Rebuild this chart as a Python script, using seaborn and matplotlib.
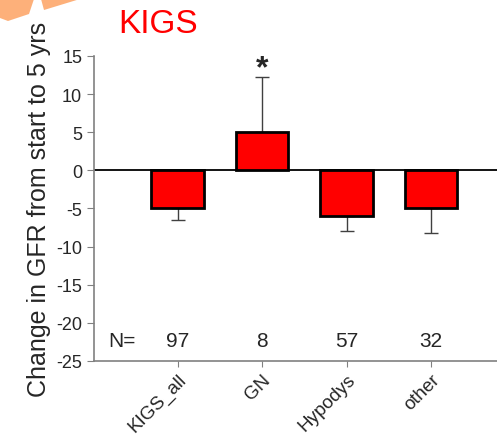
import matplotlib
matplotlib.use("Agg")
import matplotlib.pyplot as plt
import seaborn as sns
import pandas as pd
from matplotlib.patches import Polygon

# data
groups = ["KIGS_all", "GN", "Hypodys", "other"]
change = [-5.0, 5.0, -6.0, -5.0]
err = [1.5, 7.2, 1.9, 3.2]
n_patients = [97, 8, 57, 32]

df = pd.DataFrame({"group": groups, "change": change})

sns.set_style("white")
plt.rcParams["font.family"] = ["Liberation Sans", "DejaVu Sans"]
plt.rcParams["axes.unicode_minus"] = False

fig = plt.figure(figsize=(4.97, 4.39), dpi=100)
ax = fig.add_axes([0.189, 0.1754, 0.811, 0.6948])

sns.barplot(data=df, x="group", y="change", color="red", width=0.62,
            edgecolor="black", linewidth=2, errorbar=None, saturation=1, ax=ax,
            zorder=2)

# one-sided error bars, pointing away from zero
lower = [e if v < 0 else 0 for v, e in zip(change, err)]
upper = [e if v > 0 else 0 for v, e in zip(change, err)]
ax.errorbar(range(len(groups)), change, yerr=[lower, upper], fmt="none",
            ecolor="#404040", elinewidth=1, capsize=5, capthick=1, zorder=1)

ax.axhline(0, color="black", lw=1.3, zorder=0.5)

gn = groups.index("GN")
ax.text(gn, change[gn] + err[gn] - 0.8, "*", ha="center", va="bottom",
        fontsize=23, fontweight="bold")

ax.text(-0.66, -22.3, "N=", ha="center", va="center", fontsize=15)
for i, n in enumerate(n_patients):
    ax.text(i, -22.3, str(n), ha="center", va="center", fontsize=15)

ax.set_xlim(-0.99, 3.78)
ax.set_ylim(-25, 15)
ax.set_yticks(range(-25, 16, 5))
ax.set_xlabel("")
ax.set_ylabel("Change in GFR from start to 5 yrs", fontsize=18, labelpad=4)
ax.set_xticks(range(len(groups)))
ax.set_xticklabels(groups, rotation=45, ha="right", rotation_mode="anchor", fontsize=13.5)

sns.despine(ax=ax)
for s in ["left", "bottom"]:
    ax.spines[s].set_color("#808080")
    ax.spines[s].set_linewidth(1.2)
ax.tick_params(axis="y", direction="out", length=5, color="#808080", labelsize=13, left=True)
ax.tick_params(axis="x", direction="out", length=4, color="#808080", bottom=True, pad=3)

fig.text(0.318, 0.945, "KIGS", color="red", fontsize=24, ha="center", va="center")

# orange slide decoration in the corner
fig.add_artist(Polygon([(0, 439), (34, 439), (29, 424), (8, 417), (0, 420)],
                       closed=True, transform=None, color="#FDB07A", lw=0))
fig.add_artist(Polygon([(41, 439), (80, 439), (44, 428)],
                       closed=True, transform=None, color="#FDB07A", lw=0))

fig.savefig("out.png", dpi=100)
